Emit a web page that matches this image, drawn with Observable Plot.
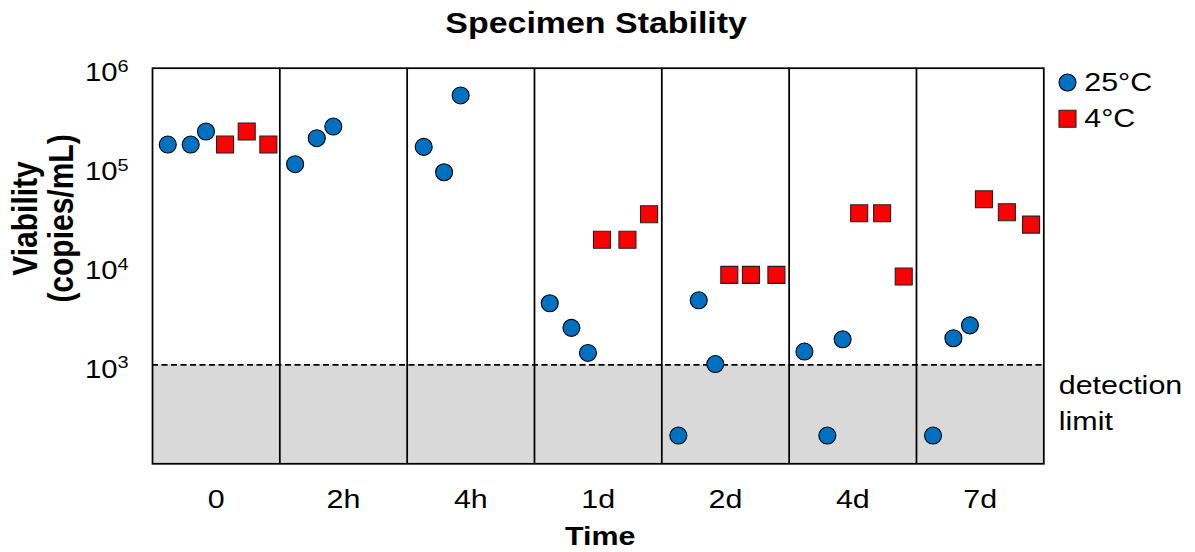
<!DOCTYPE html>
<html><head><meta charset="utf-8">
<script src="https://cdn.jsdelivr.net/npm/d3@7"></script>
<script src="https://cdn.jsdelivr.net/npm/@observablehq/plot@0.6"></script>
<style>
body{margin:0;background:#fff;}
#chart svg{font-family:"Liberation Sans",Arial,sans-serif;background:#fff;}
</style>
</head><body><div id="chart"></div>
<script>
// ---- data ----
const title = "Specimen Stability";
const timepoints = ["0", "2h", "4h", "1d", "2d", "4d", "7d"];
const seriesNames = ["25°C", "4°C"];
// 25°C samples: x position (in time-group units) and viability (copies/mL)
const warmX = [0.12, 0.30, 0.42, 1.12, 1.29, 1.42, 2.13, 2.29, 2.42, 3.12, 3.29, 3.42, 4.13, 4.29, 4.42, 5.12, 5.30, 5.42, 6.13, 6.29, 6.42];
const warmY = [169000, 169000, 229000, 107000, 196000, 257000, 160000, 88700, 530000, 4200, 2370, 1320, 193, 4500, 1020, 1365, 193, 1815, 193, 1860, 2510];
// 4°C samples
const coldX = [0.57, 0.74, 0.91, 3.53, 3.73, 3.90, 4.53, 4.70, 4.90, 5.55, 5.73, 5.90, 6.53, 6.71, 6.90];
const coldY = [169000, 229000, 169000, 18400, 18400, 33400, 8130, 8130, 8130, 34100, 34100, 7820, 47300, 35000, 26200];
const yTicks = [1e3, 1e4, 1e5, 1e6];
const yDomain = [100, 1e6];
const detectionLimit = 1000;
const detectionLabel = "detection\nlimit";
const xLabel = "Time";
const yLabel = "Viability\n(copies/mL)";

// ---- tables ----
const warm = warmX.map((x, i) => ({x, y: warmY[i]}));
const cold = coldX.map((x, i) => ({x, y: coldY[i]}));
const n = timepoints.length;
const blue = "#0070C0", red = "#FF0000";
const font = "Liberation Sans, Arial, sans-serif";

const chart = Plot.plot({
  width: 1195,
  height: 552,
  marginLeft: 152,
  marginRight: 151.7,
  marginTop: 67.7,
  marginBottom: 88.7,
  style: {fontFamily: font, background: "#fff"},
  x: {type: "linear", domain: [0, n], axis: null},
  y: {type: "log", domain: yDomain, axis: null},
  marks: [
    Plot.rect([detectionLimit], {x1: 0, x2: n, y1: yDomain[0], y2: d => d, fill: "#D9D9D9"}),
    Plot.ruleX(d3.range(1, n), {stroke: "#000", strokeWidth: 1.75}),
    Plot.ruleY([detectionLimit], {x1: 0, x2: n, stroke: "#000", strokeWidth: 1.75, strokeDasharray: "6,3.5"}),
    Plot.frame({stroke: "#000", strokeWidth: 1.75}),
    Plot.dot(warm, {x: "x", y: "y", r: 8.5, fill: blue, stroke: "#000", strokeWidth: 1.1}),
    Plot.dot(cold, {x: "x", y: "y", symbol: "square", r: 9.6, fill: red, stroke: "#222", strokeWidth: 1.1}),
    // y tick labels 10^k
    Plot.text(yTicks, {y: d => d, text: () => "10", frameAnchor: "left", textAnchor: "end", lineAnchor: "bottom", dx: -35, dy: 12.8, fontSize: 25, fill: "#000"}),
    Plot.text(yTicks, {y: d => d, text: d => String(Math.round(Math.log10(d))), frameAnchor: "left", textAnchor: "start", lineAnchor: "bottom", dx: -35, dy: 3.5, fontSize: 17, fill: "#000"}),
    // x tick labels
    Plot.text(timepoints, {x: (d, i) => i + 0.5, text: d => d, frameAnchor: "bottom", lineAnchor: "bottom", dy: 44, fontSize: 26, fill: "#000"}),
    // axis titles
    Plot.text([xLabel], {frameAnchor: "bottom", lineAnchor: "bottom", dy: 81.5, dx: 2, fontSize: 26, fontWeight: "bold", fill: "#000"}),
    Plot.text([yLabel], {frameAnchor: "left", textAnchor: "middle", rotate: -90, lineAnchor: "top", lineHeight: 1.026, dx: -140.9, dy: -47.5, fontSize: 30, fontWeight: "bold", fill: "#000"}),
    // title
    Plot.text([title], {frameAnchor: "top", lineAnchor: "bottom", dy: -34.7, dx: -2, fontSize: 29, fontWeight: "bold", fill: "#000"}),
    // detection limit label
    Plot.text([detectionLabel], {x: n, y: detectionLimit, textAnchor: "start", lineAnchor: "top", lineHeight: 1.385, dx: 15, dy: 4, fontSize: 26, fill: "#000"}),
    // legend
    Plot.dot([seriesNames[0]], {frameAnchor: "top-right", dx: 23.7, dy: 14.3, r: 8.5, fill: blue, stroke: "#000", strokeWidth: 1.1}),
    Plot.dot([seriesNames[1]], {frameAnchor: "top-right", dx: 23.7, dy: 50.6, symbol: "square", r: 9.6, fill: red, stroke: "#222", strokeWidth: 1.1}),
    Plot.text([seriesNames[0]], {frameAnchor: "top-right", textAnchor: "start", lineAnchor: "middle", dx: 40.5, dy: 14.3, fontSize: 26, fill: "#000"}),
    Plot.text([seriesNames[1]], {frameAnchor: "top-right", textAnchor: "start", lineAnchor: "middle", dx: 40.5, dy: 50.6, fontSize: 26, fill: "#000"})
  ]
});

// widen glyphs horizontally like the reference rendering
d3.select(chart).selectAll("text").each(function() {
  const t = this.getAttribute("transform");
  if (t && /^translate\([^)]*\)/.test(t)) {
    this.setAttribute("transform", t.replace(/^(translate\([^)]*\))/, "$1 scale(1.17,1)"));
  }
});
document.getElementById("chart").appendChild(chart);
</script>
</body></html>
